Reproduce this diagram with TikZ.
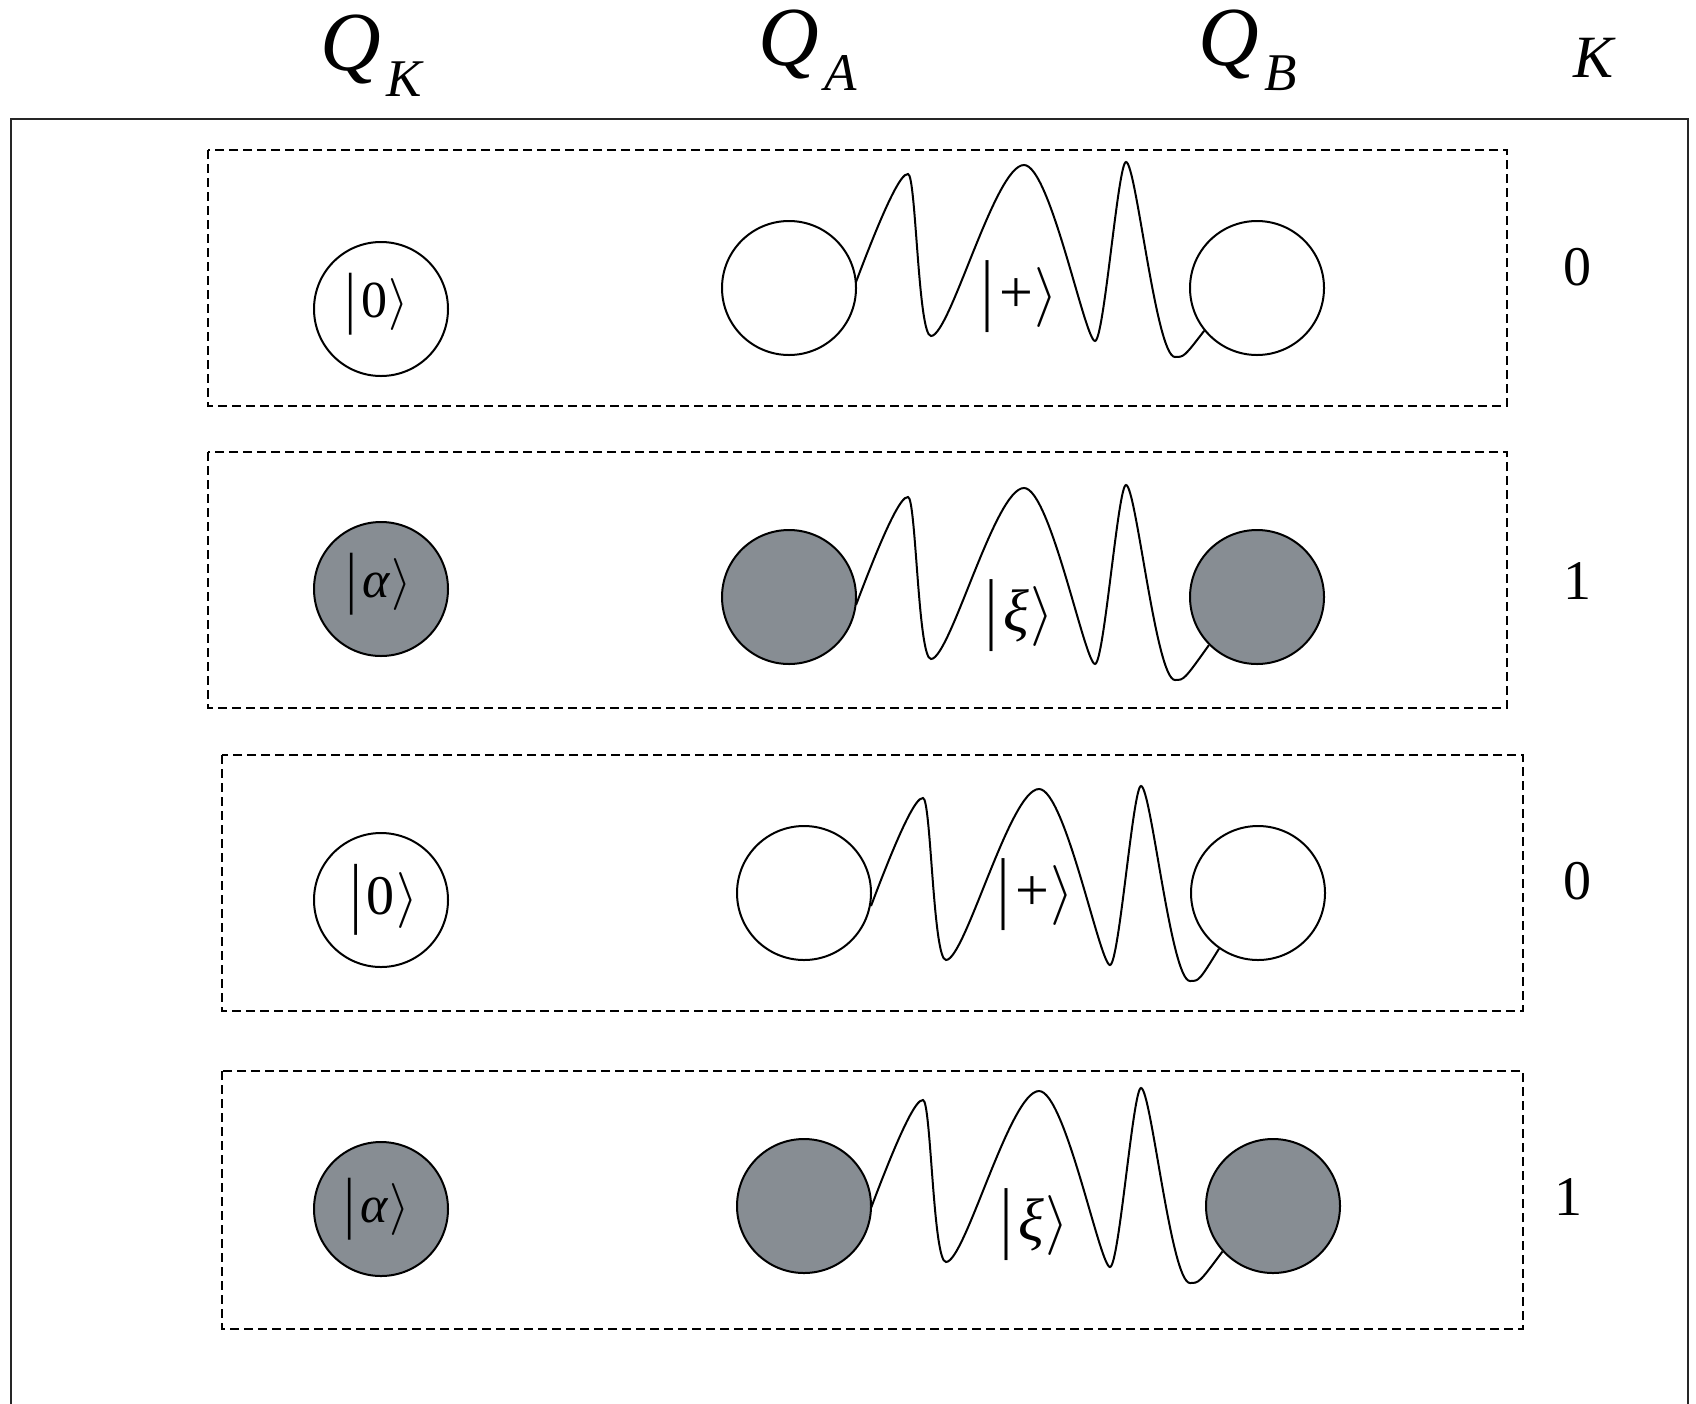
\RequirePackage{fix-cm}
\documentclass[tikz,border=0pt]{standalone}
\usepackage{graphicx}
\usepackage{fontspec}
\setmainfont{Liberation Serif}
\usetikzlibrary{calc}
\definecolor{qfill}{RGB}{135,141,147}
% ket: |text> with bar and bracket of total height #1
\newcommand\myket[2][62pt]{$\vcenter{\hbox{\resizebox*{\width}{#1}{|}}}\kern0.1em\hbox{#2}\mathord{\left.\vcenter{\hbox{\vrule height 0.5\dimexpr#1\relax depth 0.5\dimexpr#1\relax width 0pt}}\right\rangle}$}
\newcommand\wavefrom[2]{%
  \begin{scope}[shift={#1}]
    \draw[wave] (0,0) .. controls (29,-77) and (45,-109) .. (52,-108)
      .. controls (60,-108) and (62,54) .. (75,54)
      .. controls (94,54) and (139,-117) .. (168,-117)
      .. controls (194,-117) and (229,59) .. (239,59)
      .. controls (248,59) and (262,-120) .. (270,-120)
      .. controls (280,-120) and (300,75) .. (319,75)
      .. controls (328,75) .. #2;
  \end{scope}}
\begin{document}
\begin{tikzpicture}[x=1pt,y=-1pt,
  qubit/.style={circle, draw=black, line width=2pt, minimum size=134pt, inner sep=0pt},
  qon/.style={qubit, fill=qfill},
  qoff/.style={qubit, fill=white},
  grp/.style={draw=black, line width=2.2pt, dash pattern=on 9pt off 5pt},
  wave/.style={draw=black, line width=2pt},
  ketk/.style={font=\fontsize{52}{60}\selectfont, inner sep=0pt},
  ketw/.style={font=\fontsize{60}{70}\selectfont, inner sep=0pt},
  klab/.style={font=\fontsize{56}{60}\selectfont, inner sep=0pt},
  qhead/.style={anchor=base west, inner sep=0pt},
]
\useasboundingbox (0,0) rectangle (1696,1403);
% outer frame (open at the bottom)
\draw[line width=2.4pt, draw=black!85] (11,1420) -- (11,119) -- (1688,119) -- (1688,1420);

% headers
\node[qhead] (hk) at (320,70.6) {{\fontsize{84}{90}\selectfont\itshape Q}\kern6pt\raisebox{-26pt}{\fontsize{53}{60}\selectfont\itshape K}};
\node[qhead] (ha) at (758,65.6) {{\fontsize{84}{90}\selectfont\itshape Q}\kern6pt\raisebox{-24.4pt}{\fontsize{53}{60}\selectfont\itshape A}};
\node[qhead] (hb) at (1198,65.6) {{\fontsize{84}{90}\selectfont\itshape Q}\kern6pt\raisebox{-24.4pt}{\fontsize{53}{60}\selectfont\itshape B}};
\node[qhead] (hkey) at (1573,77) {\fontsize{60}{66}\selectfont\itshape K};

% group boxes
\draw[grp] (208,150) rectangle (1507,406);
\draw[grp] (208,452) rectangle (1507,708);
\draw[grp] (222,755) rectangle (1523,1011);
\draw[grp] (222,1071) rectangle (1523,1329);

% row 1
\node[qoff, label={[ketk, xshift=-4pt, yshift=5pt]center:\myket{0}}] (qk1) at (381,309) {};
\node[qoff] (qa1) at (789,288) {};
\node[qoff] (qb1) at (1257,288) {};
\wavefrom{($(qa1.east)+(-1,-6)$)}{(qb1.219)}
\node[ketw] (s1) at (1020,297) {\myket[72pt]{+}};
\node[klab] (k1) at (1577,267) {0};

% row 2
\node[qon, label={[ketk, xshift=-2pt, yshift=5pt]center:\myket{\textit{α}}}] (qk2) at (381,589) {};
\node[qon] (qa2) at (789,597) {};
\node[qon] (qb2) at (1257,597) {};
\wavefrom{($(qa2.east)+(-1,8)$)}{(qb2.225)}
\node[ketw] (s2) at (1020,616) {\myket[72pt]{\textit{ξ}}};
\node[klab] (k2) at (1577,581) {1};

% row 3
\node[qoff, label={[ketk, font=\fontsize{56}{64}\selectfont, xshift=3pt]center:\myket[71pt]{0}}] (qk3) at (381,900) {};
\node[qoff] (qa3) at (804,893) {};
\node[qoff] (qb3) at (1258,893) {};
\wavefrom{($(qa3.east)+(-1,13)$)}{(qb3.235)}
\node[ketw] (s3) at (1036,895) {\myket[72pt]{+}};
\node[klab] (k3) at (1577,881) {0};

% row 4
\node[qon, label={[ketk, xshift=-4pt]center:\myket{\textit{α}}}] (qk4) at (381,1209) {};
\node[qon] (qa4) at (804,1206) {};
\node[qon] (qb4) at (1273,1206) {};
\wavefrom{($(qa4.east)+(-1,2)$)}{(qb4.222)}
\node[ketw] (s4) at (1035,1225) {\myket[72pt]{\textit{ξ}}};
\node[klab] (k4) at (1568,1197) {1};
\end{tikzpicture}
\end{document}
